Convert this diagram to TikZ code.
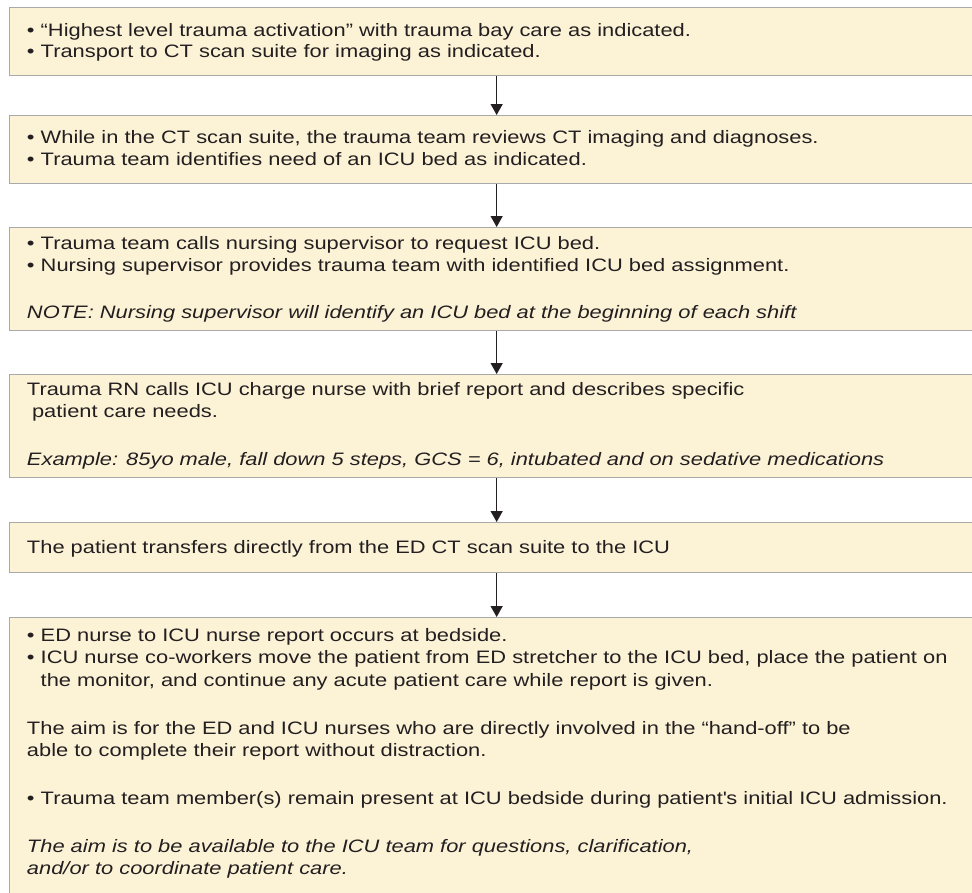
\documentclass[tikz,border=0pt]{standalone}
\usepackage{fontspec}
\setmainfont{Liberation Sans}[FakeStretch=1.215]
\usetikzlibrary{arrows.meta}
\definecolor{boxfill}{HTML}{FCF3D7}
\definecolor{boxline}{HTML}{A9A9A9}
\definecolor{txtcol}{HTML}{231F20}
\tikzset{
  stepbox/.style={draw=boxline, line width=1.3pt, fill=boxfill, rectangle, minimum width=974pt, anchor=north west, inner sep=0pt},
  txt/.style={anchor=base west, inner sep=0pt, outer sep=0pt, text=txtcol, font=\fontsize{18}{21}\selectfont},
  itxt/.style={txt, font=\fontsize{18}{21}\selectfont\itshape},
  arr/.style={draw=txtcol, line width=1.3pt, -{Triangle[length=11pt,width=12pt]}}
}
\begin{document}
\begin{tikzpicture}[x=1pt,y=-1pt]
\useasboundingbox (0,0) rectangle (972,892);
\clip (0,0) rectangle (972,892);
% boxes
\node[stepbox, minimum height=68pt] (b1) at (9,7) {};
\node[stepbox, minimum height=68pt] (b2) at (9,115) {};
\node[stepbox, minimum height=103pt] (b3) at (9,227) {};
\node[stepbox, minimum height=103pt] (b4) at (9,374) {};
\node[stepbox, minimum height=50pt] (b5) at (9,522) {};
\node[stepbox, minimum height=300pt] (b6) at (9,617) {};
% arrows
\draw[arr] (b1.south) -- (b2.north);
\draw[arr] (b2.south) -- (b3.north);
\draw[arr] (b3.south) -- (b4.north);
\draw[arr] (b4.south) -- (b5.north);
\draw[arr] (b5.south) -- (b6.north);
% texts box 1
\node[txt] (t1a) at (27,36) {• “Highest level trauma activation” with trauma bay care as indicated.};
\node[txt] (t1b) at (27,57.5) {• Transport to CT scan suite for imaging as indicated.};
% box 2
\node[txt] (t2a) at (27,143.5) {• While in the CT scan suite, the trauma team reviews CT imaging and diagnoses.};
\node[txt] (t2b) at (27,165) {• Trauma team identifies need of an ICU bed as indicated.};
% box 3
\node[txt] (t3a) at (27,249) {• Trauma team calls nursing supervisor to request ICU bed.};
\node[txt] (t3b) at (27,271) {• Nursing supervisor provides trauma team with identified ICU bed assignment.};
\node[itxt] (t3c) at (27,318) {NOTE: Nursing supervisor will identify an ICU bed at the beginning of each shift};
% box 4
\node[txt] (t4a) at (27,395) {Trauma RN calls ICU charge nurse with brief report and describes specific};
\node[txt] (t4b) at (32,417) {patient care needs.};
\node[itxt] (t4c) at (27,465) {Example: 85yo male, fall down 5 steps, GCS = 6, intubated and on sedative medications};
% box 5
\node[txt] (t5a) at (27,553) {The patient transfers directly from the ED CT scan suite to the ICU};
% box 6
\node[txt] (t6a) at (27,641) {• ED nurse to ICU nurse report occurs at bedside.};
\node[txt] (t6b) at (27,663.5) {• ICU nurse co-workers move the patient from ED stretcher to the ICU bed, place the patient on};
\node[txt] (t6c) at (27,686) {\phantom{•\ }the monitor, and continue any acute patient care while report is given.};
\node[txt] (t6d) at (27,734) {The aim is for the ED and ICU nurses who are directly involved in the “hand-off” to be};
\node[txt] (t6e) at (27,756.5) {able to complete their report without distraction.};
\node[txt] (t6f) at (27,804) {• Trauma team member(s) remain present at ICU bedside during patient\textquotesingle s initial ICU admission.};
\node[itxt] (t6g) at (27,852) {The aim is to be available to the ICU team for questions, clarification,};
\node[itxt] (t6h) at (27,874) {and/or to coordinate patient care.};
\end{tikzpicture}
\end{document}
